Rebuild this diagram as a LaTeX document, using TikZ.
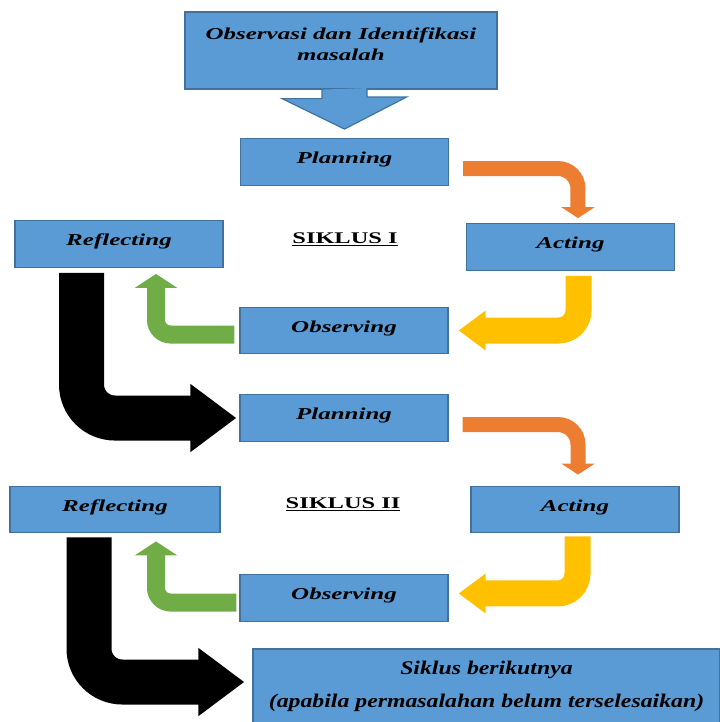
\documentclass[tikz,border=0pt]{standalone}
\usepackage{fontspec}
\setmainfont{Liberation Serif}
\newfontfamily\wideserif{Liberation Serif}[FakeStretch=1.5]
\newfontfamily\lastserif{Liberation Serif}[FakeStretch=1.23]
\usetikzlibrary{arrows.meta}
\definecolor{boxblue}{HTML}{5B9BD5}
\definecolor{boxedge}{HTML}{41719C}
\definecolor{arrorange}{HTML}{ED7D31}
\definecolor{arryellow}{HTML}{FFC000}
\definecolor{arrgreen}{HTML}{70AD47}

\begin{document}
\begin{tikzpicture}[x=0.75pt, y=-0.75pt,
  box/.style={draw=boxedge, fill=boxblue, line width=0.9pt, inner sep=0pt,
    font=\wideserif\fontsize{12.5}{15.75}\selectfont\bfseries\itshape},
  stage/.style={box, minimum width=156pt, minimum height=35pt,
    text height=8.75pt, text depth=6.25pt},
  siklus/.style={font=\wideserif\fontsize{12.2}{14}\selectfont\bfseries, anchor=base},
  toorange/.style={draw=arrorange, line width=11.25pt, rounded corners=15pt,
    -{Triangle[length=8.25pt,width=24.75pt]}},
  toyellow/.style={draw=arryellow, line width=19.5pt, rounded corners=15pt,
    -{Triangle[length=20.25pt,width=28.5pt]}},
  togreen/.style={draw=arrgreen, line width=13.5pt, rounded corners=11pt,
    -{Triangle[length=10.5pt,width=31.5pt]}},
  toblack/.style={draw=black, line width=33.75pt, rounded corners=25pt,
    -{Triangle[length=34.5pt,width=48.75pt]}}]
  \useasboundingbox (0,0) rectangle (720,722);

  % Start
  \node[box, minimum width=234pt, minimum height=57.75pt, align=center, text depth=10pt]
    (ident) at (341,50.5) {Observasi dan Identifikasi\\masalah};

  % Siklus I
  \node[stage] (plan1) at (344.5,162) {Planning};
  \node[stage] (act1) at (570.5,247) {Acting};
  \node[stage] (refl1) at (119,244) {Reflecting};
  \node[stage] (obsv1) at (344,330.5) {Observing};
  \node[siklus] (cyc1) at (345,243) {\underline{SIKLUS I}};

  % Siklus II
  \node[stage] (plan2) at (344,418) {Planning};
  \node[stage] (act2) at (575,509.5) {Acting};
  \node[stage, minimum width=157.5pt] (refl2) at (115,509.5) {Reflecting};
  \node[stage] (obsv2) at (344,598) {Observing};
  \node[siklus] (cyc2) at (343,508.5) {\underline{SIKLUS II}};

  % Next cycle
  \node[box, font=\lastserif\fontsize{14.5}{17.5}\selectfont\bfseries\itshape,
    align=center, minimum width=350.25pt, minimum height=55.5pt]
    (next) at (486.5,686) {Siklus berikutnya\\[7.25pt](apabila permasalahan belum terselesaikan)};

  % Block arrow into the first planning
  \filldraw[draw=boxedge, fill=boxblue, line width=0.9pt]
    ([xshift=-14.25pt]ident.south) -- ++(0,9) -- ++(-40,0)
    -- ([yshift=6.75pt]plan1.north) -- ++(62,-32) -- ++(-39.5,0) -- ++(0,-9);

  % Arrows, siklus I
  \draw[toorange] ([xshift=10.5pt,yshift=-4.9pt]plan1.east) -| ([xshift=5.6pt,yshift=3.75pt]act1.north);
  \draw[toyellow] ([xshift=6pt,yshift=-3.75pt]act1.south) |- ([xshift=7.5pt]obsv1.east);
  \draw[togreen] ([xshift=-3.75pt,yshift=-3pt]obsv1.west) -| ([xshift=27.75pt,yshift=-4.5pt]refl1.south);
  \draw[toblack] ([xshift=-28.1pt,yshift=-3.75pt]refl1.south) |- ([xshift=-2.25pt]plan2.west);

  % Arrows, siklus II
  \draw[toorange] ([xshift=10.5pt,yshift=-4.9pt]plan2.east) -| ([xshift=2.25pt,yshift=8.25pt]act2.north);
  \draw[toyellow] ([xshift=1.9pt,yshift=-2.25pt]act2.south) |- ([xshift=7.5pt,yshift=3.4pt]obsv2.east);
  \draw[togreen] ([xshift=-2.25pt,yshift=-3.4pt]obsv2.west) -| ([xshift=30.75pt,yshift=-6pt]refl2.south);
  \draw[toblack] ([xshift=-19.5pt,yshift=-3pt]refl2.south) |- ([xshift=-6pt,yshift=3pt]next.west);
\end{tikzpicture}
\end{document}
